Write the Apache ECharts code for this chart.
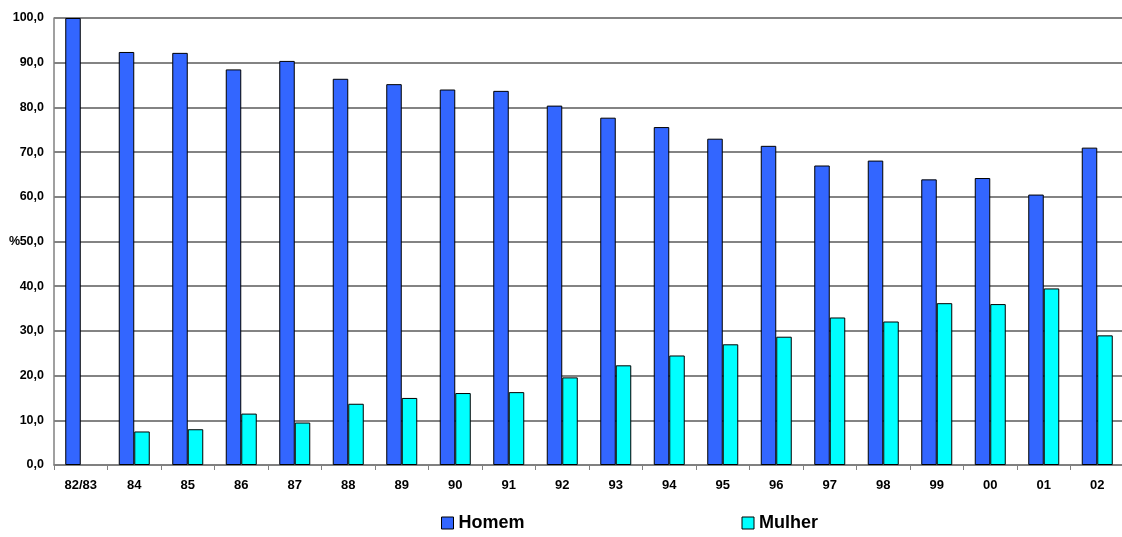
<!DOCTYPE html>
<html>
<head>
<meta charset="utf-8">
<script src="https://cdn.jsdelivr.net/npm/echarts@6/dist/echarts.min.js"></script>
<style>
  html, body { margin: 0; padding: 0; background: #fff; }
  #chart { width: 1122px; height: 537px; }
</style>
</head>
<body>
<div id="chart"></div>
<script>
// Participação por sexo (%), 1982/83 a 2002
const categories = ['82/83', '84', '85', '86', '87', '88', '89', '90', '91', '92',
  '93', '94', '95', '96', '97', '98', '99', '00', '01', '02'];
const homem = [100.0, 92.4, 92.2, 88.5, 90.4, 86.4, 85.2, 84.0, 83.7, 80.4,
  77.7, 75.6, 73.0, 71.4, 67.0, 68.1, 63.9, 64.2, 60.5, 71.0];
const mulher = [null, 7.5, 8.0, 11.5, 9.5, 13.7, 15.0, 16.1, 16.3, 19.6,
  22.3, 24.5, 27.0, 28.7, 33.0, 32.1, 36.2, 36.0, 39.5, 29.0];
const yTicks = { min: 0, max: 100, step: 10 };

const font = 'Arial, "Liberation Sans", sans-serif';
const chart = echarts.init(document.getElementById('chart'));

chart.setOption({
  animation: false,
  backgroundColor: '#ffffff',
  grid: {
    left: 54, right: -2, top: 18, bottom: 72,
    containLabel: false,
    outerBoundsMode: 'none'
  },
  legend: {
    left: 441,
    top: 514,
    padding: 0,
    itemWidth: 12,
    itemHeight: 12,
    itemGap: 217,
    icon: 'rect',
    textStyle: { fontFamily: font, fontWeight: 'bold', fontSize: 18, color: '#000' },
    data: [
      { name: 'Homem', itemStyle: { borderColor: '#000', borderWidth: 1 } },
      { name: 'Mulher', itemStyle: { borderColor: '#000', borderWidth: 1 } }
    ]
  },
  xAxis: {
    type: 'category',
    data: categories,
    axisLine: { lineStyle: { color: '#808080', width: 1.5 } },
    axisTick: { show: true, interval: 0, length: 5, lineStyle: { color: '#808080' } },
    axisLabel: {
      interval: 0,
      margin: 14,
      fontFamily: font,
      fontWeight: 'bold',
      fontSize: 13,
      color: '#000'
    },
    splitLine: { show: false }
  },
  yAxis: {
    type: 'value',
    min: yTicks.min,
    max: yTicks.max,
    interval: yTicks.step,
    name: '%',
    nameLocation: 'middle',
    nameRotate: 0,
    nameGap: 34,
    nameMoveOverlap: false,
    nameTextStyle: { fontFamily: font, fontWeight: 'bold', fontSize: 12.5, color: '#000' },
    axisLine: { show: true, lineStyle: { color: '#808080', width: 1.5 } },
    axisTick: { show: false },
    axisLabel: {
      margin: 10,
      fontFamily: font,
      fontWeight: 'bold',
      fontSize: 12.5,
      color: '#000',
      formatter: v => v.toFixed(1).replace('.', ',')
    },
    splitLine: { show: true, lineStyle: { color: '#5a5a5a', width: 1.5 } }
  },
  series: [
    {
      name: 'Homem',
      type: 'bar',
      data: homem,
      barWidth: 15.5,
      barGap: '0%',
      itemStyle: { color: '#3366FF', borderColor: '#000', borderWidth: 1 }
    },
    {
      name: 'Mulher',
      type: 'bar',
      data: mulher,
      barWidth: 15.5,
      barGap: '0%',
      itemStyle: { color: '#00FFFF', borderColor: '#000', borderWidth: 1 }
    }
  ]
});
</script>
</body>
</html>
